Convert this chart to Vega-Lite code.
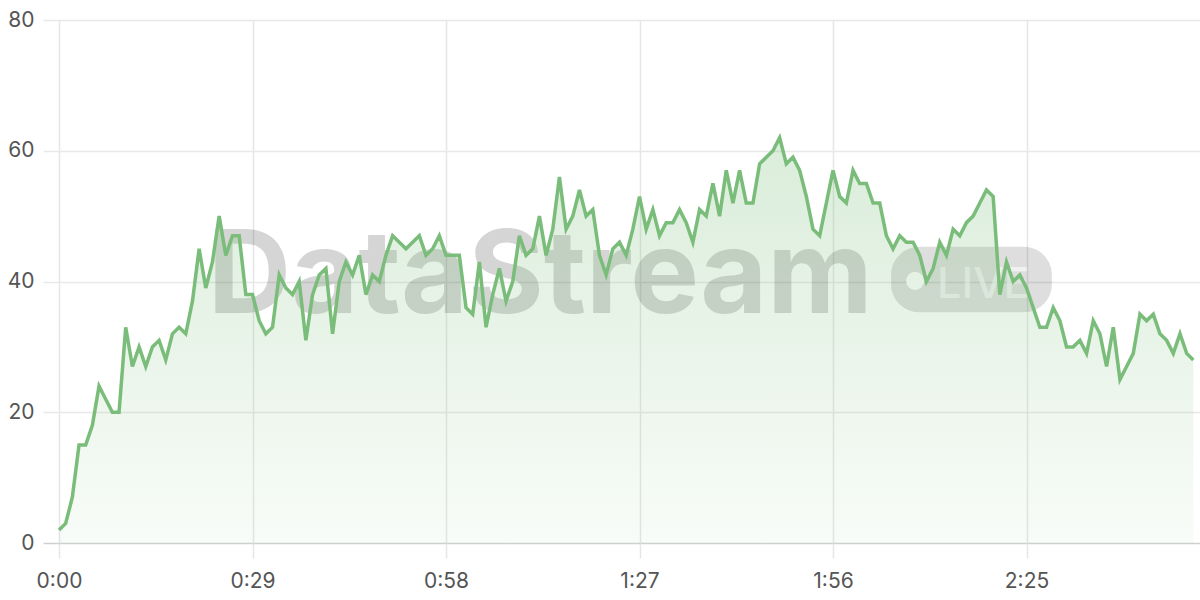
{
  "$schema": "https://vega.github.io/schema/vega-lite/v6.json",
  "width": 1141,
  "height": 523,
  "autosize": {"type": "none"},
  "padding": {"left": 59, "top": 20, "right": 0, "bottom": 57},
  "background": "#ffffff",
  "config": {
    "view": {"stroke": null},
    "font": "Inter",
    "axis": {
      "labelFont": "Inter",
      "labelFontSize": 21,
      "labelColor": "#555555",
      "domain": false,
      "title": null
    }
  },
  "datasets": {
    "series": [
      {"t": 0, "value": 2}, {"t": 1, "value": 3}, {"t": 2, "value": 7}, {"t": 3, "value": 15},
      {"t": 4, "value": 15}, {"t": 5, "value": 18}, {"t": 6, "value": 24}, {"t": 7, "value": 22},
      {"t": 8, "value": 20}, {"t": 9, "value": 20}, {"t": 10, "value": 33}, {"t": 11, "value": 27},
      {"t": 12, "value": 30}, {"t": 13, "value": 27}, {"t": 14, "value": 30}, {"t": 15, "value": 31},
      {"t": 16, "value": 28}, {"t": 17, "value": 32}, {"t": 18, "value": 33}, {"t": 19, "value": 32},
      {"t": 20, "value": 37}, {"t": 21, "value": 45}, {"t": 22, "value": 39}, {"t": 23, "value": 43},
      {"t": 24, "value": 50}, {"t": 25, "value": 44}, {"t": 26, "value": 47}, {"t": 27, "value": 47},
      {"t": 28, "value": 38}, {"t": 29, "value": 38}, {"t": 30, "value": 34}, {"t": 31, "value": 32},
      {"t": 32, "value": 33}, {"t": 33, "value": 41}, {"t": 34, "value": 39}, {"t": 35, "value": 38},
      {"t": 36, "value": 40}, {"t": 37, "value": 31}, {"t": 38, "value": 38}, {"t": 39, "value": 41},
      {"t": 40, "value": 42}, {"t": 41, "value": 32}, {"t": 42, "value": 40}, {"t": 43, "value": 43},
      {"t": 44, "value": 41}, {"t": 45, "value": 44}, {"t": 46, "value": 38}, {"t": 47, "value": 41},
      {"t": 48, "value": 40}, {"t": 49, "value": 44}, {"t": 50, "value": 47}, {"t": 51, "value": 46},
      {"t": 52, "value": 45}, {"t": 53, "value": 46}, {"t": 54, "value": 47}, {"t": 55, "value": 44},
      {"t": 56, "value": 45}, {"t": 57, "value": 47}, {"t": 58, "value": 44}, {"t": 59, "value": 44},
      {"t": 60, "value": 44}, {"t": 61, "value": 36}, {"t": 62, "value": 35}, {"t": 63, "value": 43},
      {"t": 64, "value": 33}, {"t": 65, "value": 38}, {"t": 66, "value": 42}, {"t": 67, "value": 37},
      {"t": 68, "value": 40}, {"t": 69, "value": 47}, {"t": 70, "value": 44}, {"t": 71, "value": 45},
      {"t": 72, "value": 50}, {"t": 73, "value": 44}, {"t": 74, "value": 48}, {"t": 75, "value": 56},
      {"t": 76, "value": 48}, {"t": 77, "value": 50}, {"t": 78, "value": 54}, {"t": 79, "value": 50},
      {"t": 80, "value": 51}, {"t": 81, "value": 44}, {"t": 82, "value": 41}, {"t": 83, "value": 45},
      {"t": 84, "value": 46}, {"t": 85, "value": 44}, {"t": 86, "value": 48}, {"t": 87, "value": 53},
      {"t": 88, "value": 48}, {"t": 89, "value": 51}, {"t": 90, "value": 47}, {"t": 91, "value": 49},
      {"t": 92, "value": 49}, {"t": 93, "value": 51}, {"t": 94, "value": 49}, {"t": 95, "value": 46},
      {"t": 96, "value": 51}, {"t": 97, "value": 50}, {"t": 98, "value": 55}, {"t": 99, "value": 50},
      {"t": 100, "value": 57}, {"t": 101, "value": 52}, {"t": 102, "value": 57}, {"t": 103, "value": 52},
      {"t": 104, "value": 52}, {"t": 105, "value": 58}, {"t": 106, "value": 59}, {"t": 107, "value": 60},
      {"t": 108, "value": 62}, {"t": 109, "value": 58}, {"t": 110, "value": 59}, {"t": 111, "value": 57},
      {"t": 112, "value": 53}, {"t": 113, "value": 48}, {"t": 114, "value": 47}, {"t": 115, "value": 52},
      {"t": 116, "value": 57}, {"t": 117, "value": 53}, {"t": 118, "value": 52}, {"t": 119, "value": 57},
      {"t": 120, "value": 55}, {"t": 121, "value": 55}, {"t": 122, "value": 52}, {"t": 123, "value": 52},
      {"t": 124, "value": 47}, {"t": 125, "value": 45}, {"t": 126, "value": 47}, {"t": 127, "value": 46},
      {"t": 128, "value": 46}, {"t": 129, "value": 44}, {"t": 130, "value": 40}, {"t": 131, "value": 42},
      {"t": 132, "value": 46}, {"t": 133, "value": 44}, {"t": 134, "value": 48}, {"t": 135, "value": 47},
      {"t": 136, "value": 49}, {"t": 137, "value": 50}, {"t": 138, "value": 52}, {"t": 139, "value": 54},
      {"t": 140, "value": 53}, {"t": 141, "value": 38}, {"t": 142, "value": 43}, {"t": 143, "value": 40},
      {"t": 144, "value": 41}, {"t": 145, "value": 39}, {"t": 146, "value": 36}, {"t": 147, "value": 33},
      {"t": 148, "value": 33}, {"t": 149, "value": 36}, {"t": 150, "value": 34}, {"t": 151, "value": 30},
      {"t": 152, "value": 30}, {"t": 153, "value": 31}, {"t": 154, "value": 29}, {"t": 155, "value": 34},
      {"t": 156, "value": 32}, {"t": 157, "value": 27}, {"t": 158, "value": 33}, {"t": 159, "value": 25},
      {"t": 160, "value": 27}, {"t": 161, "value": 29}, {"t": 162, "value": 35}, {"t": 163, "value": 34},
      {"t": 164, "value": 35}, {"t": 165, "value": 32}, {"t": 166, "value": 31}, {"t": 167, "value": 29},
      {"t": 168, "value": 32}, {"t": 169, "value": 29}, {"t": 170, "value": 28}
    ],
    "watermark": [
      {"label": "DataStream", "t": 22.3, "value": 35.2}
    ],
    "badge": [
      {"label": "LIVE", "t": 124.7, "t2": 148.8, "value": 45.3, "value2": 35.3, "dot_t": 128.3, "dot_v": 40.1, "text_t": 131.6, "text_v": 37.5}
    ]
  },
  "layer": [
    {
      "data": {"name": "watermark"},
      "mark": {"type": "text", "align": "left", "baseline": "alphabetic", "font": "Inter", "fontWeight": "bold", "fontSize": 115.5, "color": "#000000", "opacity": 0.16},
      "encoding": {
        "x": {"field": "t", "type": "quantitative", "scale": {"domain": [0, 171], "nice": false, "zero": false}},
        "y": {"field": "value", "type": "quantitative", "scale": {"domain": [0, 80], "nice": false}},
        "text": {"field": "label"}
      }
    },
    {
      "data": {"name": "badge"},
      "mark": {"type": "rect", "cornerRadius": 28, "color": "#000000", "opacity": 0.13},
      "encoding": {
        "x": {"field": "t", "type": "quantitative"},
        "x2": {"field": "t2"},
        "y": {"field": "value", "type": "quantitative"},
        "y2": {"field": "value2"}
      }
    },
    {
      "data": {"name": "badge"},
      "mark": {"type": "point", "shape": "circle", "filled": true, "size": 330, "color": "#ffffff", "opacity": 1},
      "encoding": {
        "x": {"field": "dot_t", "type": "quantitative"},
        "y": {"field": "dot_v", "type": "quantitative"}
      }
    },
    {
      "data": {"name": "badge"},
      "mark": {"type": "text", "align": "left", "baseline": "alphabetic", "font": "Inter", "fontWeight": 500, "fontSize": 43, "color": "#ffffff", "opacity": 0.6},
      "encoding": {
        "x": {"field": "text_t", "type": "quantitative"},
        "y": {"field": "text_v", "type": "quantitative"},
        "text": {"field": "label"}
      }
    },
    {
      "data": {"name": "series"},
      "mark": {
        "type": "area",
        "interpolate": "linear",
        "color": {
          "gradient": "linear",
          "x1": 0, "y1": 0, "x2": 0, "y2": 1,
          "stops": [
            {"offset": 0, "color": "rgba(122,189,122,0.28)"},
            {"offset": 1, "color": "rgba(122,189,122,0.05)"}
          ]
        }
      },
      "encoding": {
        "x": {
          "field": "t",
          "type": "quantitative",
          "axis": {
            "values": [0, 29, 58, 87, 116, 145],
            "labelExpr": "floor(datum.value / 60) + ':' + (datum.value % 60 < 10 ? '0' : '') + (datum.value % 60)",
            "grid": true,
            "gridColor": "#e6e6e6",
            "gridWidth": 1.5,
            "tickColor": "#e6e6e6",
            "tickWidth": 1.5,
            "tickSize": 15,
            "labelPadding": 12,
            "labelFlush": false
          }
        },
        "y": {
          "field": "value",
          "type": "quantitative",
          "axis": {
            "values": [0, 20, 40, 60, 80],
            "grid": true,
            "gridColor": {"condition": {"test": "datum.value === 0", "value": "#cfcfcf"}, "value": "#e8e8e8"},
            "gridWidth": 1.5,
            "tickColor": {"condition": {"test": "datum.value === 0", "value": "#cfcfcf"}, "value": "#e8e8e8"},
            "tickWidth": 1.5,
            "tickSize": 16,
            "labelPadding": 9
          }
        }
      }
    },
    {
      "data": {"name": "series"},
      "mark": {"type": "line", "interpolate": "linear", "color": "#7abd7a", "strokeWidth": 3.5, "strokeJoin": "miter"},
      "encoding": {
        "x": {"field": "t", "type": "quantitative"},
        "y": {"field": "value", "type": "quantitative"}
      }
    }
  ]
}
